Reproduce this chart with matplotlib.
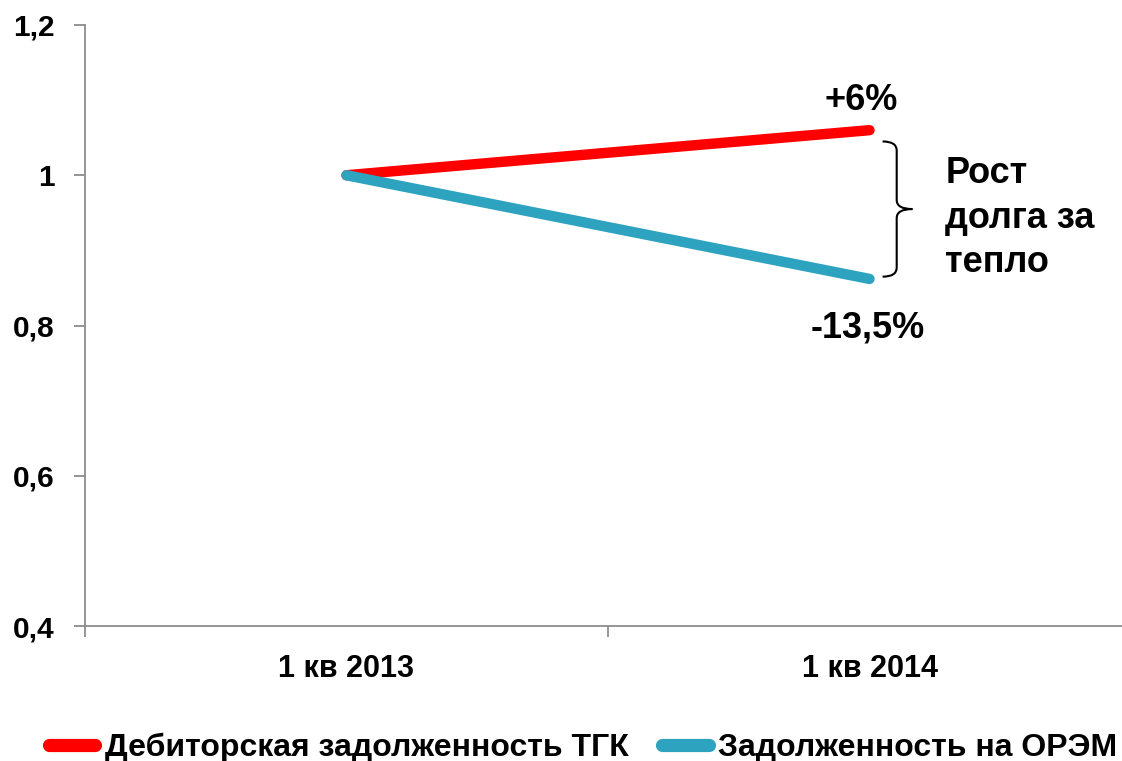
import matplotlib
matplotlib.use("Agg")
import matplotlib.pyplot as plt
from matplotlib.path import Path
from matplotlib.patches import PathPatch

plt.rcParams['font.family'] = ['Liberation Sans', 'DejaVu Sans']
plt.rcParams['font.weight'] = 'bold'

categories = ["1 кв 2013", "1 кв 2014"]
tgk = [1.0, 1.06]
orem = [1.0, 0.862]
series_names = ["Дебиторская задолженность ТГК", "Задолженность на ОРЭМ"]
labels_end = ["+6%", "-13,5%"]
brace_text = "Рост\nдолга за\nтепло"
yticks = [0.4, 0.6, 0.8, 1.0, 1.2]
ytick_labels = ["0,4", "0,6", "0,8", "1", "1,2"]

red = "#FF0000"
blue = "#2EA3C0"
gray = "#8C8C8C"

fig = plt.figure(figsize=(11.22, 7.61), dpi=100)
ax = fig.add_axes([85/1122, 1-626/761, (1131-85)/1122, (626-25)/761])

x = list(range(len(categories)))
ax.plot(x, tgk, color=red, lw=7.5, solid_capstyle='round', label=series_names[0], zorder=3)
ax.plot(x, orem, color=blue, lw=7.5, solid_capstyle='round', label=series_names[1], zorder=3)

ax.set_xlim(-0.5, 1.5)
ax.set_ylim(0.4, 1.2)
ax.set_yticks(yticks)
ax.set_yticklabels(ytick_labels, fontsize=21.5, fontweight='bold')
ax.set_xticks([-0.5, 0.5, 1.5])
ax.set_xticklabels([])
ax.set_xticks(x, minor=True)
ax.set_xticklabels(categories, minor=True, fontsize=22, fontweight='bold')
ax.tick_params(axis='x', which='minor', length=0, pad=20)
ax.tick_params(axis='x', which='major', length=8, color=gray, width=1.3, direction='out')
ax.tick_params(axis='y', length=8, color=gray, width=1.3, pad=14)
for s in ['top', 'right']:
    ax.spines[s].set_visible(False)
for s in ['left', 'bottom']:
    ax.spines[s].set_color(gray)
    ax.spines[s].set_linewidth(1.3)

# end labels
ax.text(0.985, 1.10, labels_end[0], fontsize=26, fontweight='bold', ha='center', va='center')
ax.text(0.996, 0.797, labels_end[1], fontsize=26, fontweight='bold', ha='center', va='center')

# brace
top = tgk[1] - 0.015
bot = orem[1] + 0.003
mid = (top + bot) / 2
x0, x1, x2 = 1.025, 1.052, 1.082
c = 0.012
verts = [
    (x0, top), (x1, top), (x1, top - c),
    (x1, mid + c),
    (x1, mid), (x2, mid),
    (x1, mid), (x1, mid - c),
    (x1, bot + c),
    (x1, bot), (x0, bot),
]
codes = [Path.MOVETO, Path.CURVE3, Path.CURVE3,
         Path.LINETO,
         Path.CURVE3, Path.CURVE3,
         Path.CURVE3, Path.CURVE3,
         Path.LINETO,
         Path.CURVE3, Path.CURVE3]
ax.add_patch(PathPatch(Path(verts, codes), fill=False, lw=1.5, color='black', clip_on=False))

ax.text(1.145, 0.943, brace_text, fontsize=26, fontweight='bold', ha='left', va='center',
        linespacing=1.35)

leg = fig.legend(loc='center left', bbox_to_anchor=(49/1122, 13/761), ncol=2, frameon=False,
                 handlelength=1.45, handletextpad=0.3, columnspacing=1.05,
                 prop={'weight': 'bold', 'size': 23}, borderpad=0, borderaxespad=0)
for ln in leg.get_lines():
    ln.set_linewidth(9.5)
    ln.set_solid_capstyle('round')

fig.savefig("out.png", dpi=100)
